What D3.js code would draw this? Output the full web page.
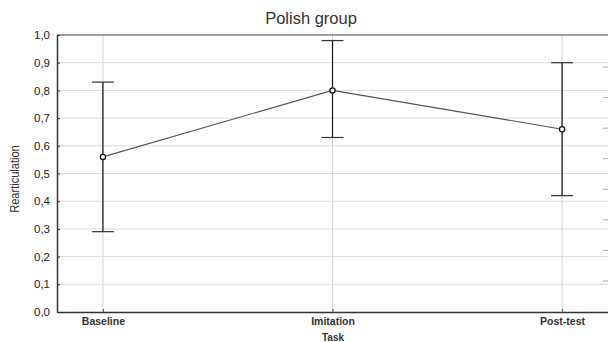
<!DOCTYPE html>
<html>
<head>
<meta charset="utf-8">
<script src="https://cdn.jsdelivr.net/npm/d3@7"></script>
<style>
  html, body { margin: 0; padding: 0; background: #fff; }
  svg { display: block; font-family: "Liberation Sans", Arial, sans-serif; }
</style>
</head>
<body>
<svg id="chart" width="608" height="342"></svg>
<script>
// Rearticulation by task, Polish group: means with error bars
const tasks = ["Baseline", "Imitation", "Post-test"];
const means = [0.56, 0.80, 0.66];
const upper = [0.83, 0.98, 0.90];
const lower = [0.29, 0.63, 0.42];
const yTicks = [0, 0.1, 0.2, 0.3, 0.4, 0.5, 0.6, 0.7, 0.8, 0.9, 1.0];
// stub ticks of the neighbouring panel's axis along the right edge
const sideTicks = [1, 2, 3, 4, 5, 6, 7, 8];

const svg = d3.select("#chart");
const plotL = 57, plotR = 608, plotT = 35, plotB = 312;

const x = d3.scalePoint().domain(tasks).range([plotL, plotR]).padding(0.2);
const y = d3.scaleLinear().domain([0, 1]).range([plotB, plotT]);
const fmt = v => d3.format(".1f")(v).replace(".", ",");

// horizontal grid
svg.append("g").selectAll("line").data(yTicks.slice(1)).join("line")
  .attr("x1", plotL).attr("x2", plotR)
  .attr("y1", d => y(d)).attr("y2", d => y(d))
  .attr("stroke", "#dcdcdc").attr("stroke-width", 1);

// vertical grid
svg.append("g").selectAll("line").data(tasks).join("line")
  .attr("x1", d => x(d)).attr("x2", d => x(d))
  .attr("y1", plotT).attr("y2", plotB)
  .attr("stroke", "#d4d4d4").attr("stroke-width", 1);

// right-edge stub ticks
const side = d3.scaleLinear().domain([1, 8]).range([67, 281]);
svg.append("g").selectAll("line").data(sideTicks).join("line")
  .attr("x1", 603).attr("x2", 608)
  .attr("y1", d => side(d)).attr("y2", d => side(d))
  .attr("stroke", "#aaa").attr("stroke-width", 1);

// top frame line
svg.append("line").attr("x1", plotL).attr("x2", plotR)
  .attr("y1", plotT).attr("y2", plotT)
  .attr("stroke", "#555").attr("stroke-width", 1);

// y axis
const yAxis = d3.axisLeft(y).tickValues(yTicks).tickFormat(fmt).tickSizeInner(-3).tickSizeOuter(0).tickPadding(7);
const gy = svg.append("g").attr("transform", `translate(${plotL},0)`).call(yAxis);
gy.select(".domain").attr("stroke", "#333").attr("stroke-width", 1.5);
gy.selectAll(".tick line").attr("stroke", "#333");
gy.selectAll("text").attr("font-size", 11.5).attr("fill", "#222");

// x axis
const xAxis = d3.axisBottom(x).tickSizeInner(-3).tickSizeOuter(0).tickPadding(6);
const gx = svg.append("g").attr("transform", `translate(0,${plotB})`).call(xAxis);
gx.select(".domain").attr("stroke", "#333").attr("stroke-width", 1.5);
gx.selectAll(".tick line").attr("stroke", "#555");
gx.selectAll("text").attr("font-size", 10.5).attr("font-weight", "bold").attr("fill", "#333");

// error bars
const bars = svg.append("g");
tasks.forEach((t, i) => {
  bars.append("line").attr("x1", x(t)).attr("x2", x(t))
    .attr("y1", y(upper[i])).attr("y2", y(lower[i]))
    .attr("stroke", "#111").attr("stroke-width", 1.2);
  [upper[i], lower[i]].forEach(v => {
    bars.append("line").attr("x1", x(t) - 11).attr("x2", x(t) + 11)
      .attr("y1", y(v)).attr("y2", y(v))
      .attr("stroke", "#333").attr("stroke-width", 1.2);
  });
});

// mean line
svg.append("path")
  .datum(tasks.map((t, i) => [x(t), y(means[i])]))
  .attr("d", d3.line())
  .attr("fill", "none").attr("stroke", "#555").attr("stroke-width", 1.1);

// mean markers
svg.append("g").selectAll("circle").data(tasks).join("circle")
  .attr("cx", d => x(d)).attr("cy", (d, i) => y(means[i])).attr("r", 2.6)
  .attr("fill", "#fff").attr("stroke", "#111").attr("stroke-width", 1.3);

// title and axis labels
svg.append("text").attr("x", 311).attr("y", 24).attr("text-anchor", "middle")
  .attr("font-size", 16.5).attr("fill", "#333").text("Polish group");
svg.append("text").attr("x", 333).attr("y", 340.5).attr("text-anchor", "middle")
  .attr("font-size", 10).attr("font-weight", "bold").attr("fill", "#333").text("Task");
svg.append("text").attr("transform", "translate(19,179) rotate(-90) scale(0.85,1)")
  .attr("text-anchor", "middle").attr("font-size", 13).attr("fill", "#333").text("Rearticulation");
</script>
</body>
</html>
